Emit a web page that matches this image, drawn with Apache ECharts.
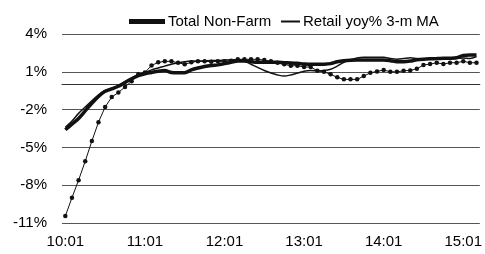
<!DOCTYPE html>
<html>
<head>
<meta charset="utf-8">
<script src="https://cdn.jsdelivr.net/npm/echarts@6/dist/echarts.min.js"></script>
<style>
  html, body { margin: 0; padding: 0; background: #fff; }
  #chart { width: 485px; height: 254px; }
</style>
</head>
<body>
<div id="chart"></div>
<script>
// monthly categories 10:01 .. 15:03
var months = [];
for (var yy = 10; yy <= 15; yy++) {
  for (var mm = 1; mm <= 12; mm++) {
    if (months.length < 63) months.push(yy + ':' + (mm < 10 ? '0' + mm : mm));
  }
}

// Total Non-Farm (thick)
var totalNonFarm = [
  -3.6, -3.15, -2.7, -2.1, -1.5, -0.95, -0.55, -0.35, -0.15, 0.15,
  0.45, 0.7, 0.85, 0.95, 1.05, 1.1, 0.95, 0.93, 0.93, 1.15,
  1.3, 1.42, 1.5, 1.55, 1.65, 1.75, 1.85, 1.85, 1.8, 1.75,
  1.75, 1.75, 1.75, 1.72, 1.7, 1.67, 1.62, 1.59, 1.59, 1.6,
  1.65, 1.8, 1.88, 1.92, 1.93, 1.93, 1.93, 1.93, 1.93, 1.88,
  1.8, 1.8, 1.85, 1.95, 2.0, 2.03, 2.05, 2.07, 2.08, 2.12,
  2.3, 2.33, 2.33
];
// Retail yoy% 3-m MA (thin)
var retailMA = [
  -3.4, -2.9, -2.3, -1.8, -1.3, -0.85, -0.5, -0.3, -0.1, 0.2,
  0.5, 0.75, 0.95, 1.15, 1.3, 1.45, 1.6, 1.7, 1.8, 1.85,
  1.85, 1.87, 1.9, 1.9, 1.93, 1.95, 1.95, 1.85, 1.6, 1.35,
  1.1, 0.9, 0.75, 0.66, 0.75, 0.9, 1.05, 1.1, 1.08, 1.1,
  1.2, 1.45, 1.75, 1.95, 2.1, 2.15, 2.15, 2.15, 2.15, 2.05,
  2.0, 2.05, 2.12, 2.05, 2.0, 2.05, 2.07, 2.07, 2.05, 2.07,
  2.1, 2.05, 2.2
];
// Retail yoy% (dotted with markers)
var retailYoy = [
  -10.45, -9.0, -7.6, -6.1, -4.5, -3.0, -1.8, -1.0, -0.65, -0.2,
  0.25, 0.8, 0.95, 1.5, 1.75, 1.83, 1.83, 1.72, 1.6, 1.75,
  1.83, 1.83, 1.8, 1.83, 1.83, 1.88, 1.99, 1.99, 1.99, 1.99,
  1.93, 1.83, 1.72, 1.59, 1.48, 1.48, 1.38, 1.38, 1.08, 1.0,
  0.8, 0.56, 0.4, 0.4, 0.4, 0.66, 0.92, 1.03, 1.14, 1.0,
  1.0, 1.08, 1.11, 1.24, 1.54, 1.61, 1.72, 1.61, 1.72, 1.72,
  1.83, 1.72, 1.72
];

var chart = echarts.init(document.getElementById('chart'));
var font = 'Liberation Sans, Arial, sans-serif';

chart.setOption({
  animation: false,
  textStyle: { fontFamily: font },
  legend: [{
    data: ['Total Non-Farm'],
    left: 124,
    top: 9,
    itemWidth: 36,
    itemHeight: 5,
    itemGap: 3,
    icon: 'rect',
    textStyle: { fontSize: 15, color: '#000', fontFamily: font, padding: [0, 0, 0, -2] }
  }, {
    data: ['Retail yoy% 3-m MA'],
    left: 276,
    top: 9,
    itemWidth: 19,
    itemHeight: 2,
    icon: 'rect',
    textStyle: { fontSize: 15, color: '#000', fontFamily: font, padding: [0, 0, 0, -2] }
  }],
  grid: { left: 62, right: 2, top: 34, bottom: 31 },
  xAxis: [{
    type: 'category',
    data: months,
    boundaryGap: true,
    axisLine: { onZero: true, lineStyle: { color: '#333', width: 1 } },
    axisTick: { interval: 11, length: 5, lineStyle: { color: '#333' } },
    axisLabel: { show: false },
    splitLine: { show: false }
  }, {
    type: 'category',
    data: months,
    position: 'bottom',
    boundaryGap: true,
    axisLine: { show: false, onZero: false },
    axisTick: { show: false },
    axisLabel: { interval: 11, margin: 11, fontSize: 15, color: '#000', fontFamily: font },
    splitLine: { show: false }
  }],
  yAxis: {
    type: 'value',
    min: -11,
    max: 4,
    interval: 3,
    axisLine: { show: false },
    axisTick: { show: false },
    axisLabel: { formatter: '{value}%', margin: 15, fontSize: 15, color: '#000', fontFamily: font },
    splitLine: { lineStyle: { color: '#555', width: 1 } }
  },
  series: [{
    name: 'Total Non-Farm',
    type: 'line',
    data: totalNonFarm,
    symbol: 'none',
    smooth: 0.3,
    lineStyle: { color: '#111', width: 3.5 },
    itemStyle: { color: '#111' }
  }, {
    name: 'Retail yoy% 3-m MA',
    type: 'line',
    data: retailMA,
    symbol: 'none',
    smooth: 0.3,
    lineStyle: { color: '#111', width: 1.5 },
    itemStyle: { color: '#111' }
  }, {
    name: 'Retail yoy%',
    type: 'line',
    data: retailYoy,
    symbol: 'circle',
    symbolSize: 4.5,
    showAllSymbol: true,
    lineStyle: { color: '#111', width: 1 },
    itemStyle: { color: '#111' }
  }]
});
</script>
</body>
</html>
